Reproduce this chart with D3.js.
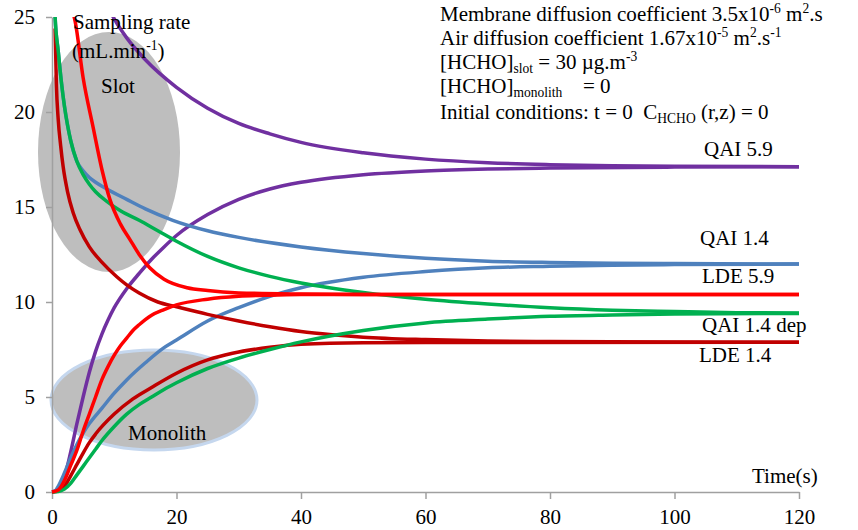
<!DOCTYPE html>
<html>
<head>
<meta charset="utf-8">
<script src="https://cdn.jsdelivr.net/npm/d3@7"></script>
<style>
  html, body { margin: 0; padding: 0; background: #fff; }
  svg { display: block; }
  text { font-family: "Liberation Serif", "Tinos", "Times New Roman", "Nimbus Roman", "DejaVu Serif", "Noto Serif", serif; fill: #000; }
</style>
</head>
<body>
<svg id="chart" width="858" height="530"></svg>
<script>
// ---------- data ----------
const xTicks = [0, 20, 40, 60, 80, 100, 120];
const yTicks = [0, 5, 10, 15, 20, 25];

// [time (s), sampling rate (mL/min)]
const qai59Slot = [[9.5,25.2],[10,24.9],[12,23.9],[15,22.75],[20,21.3],[25,20.2],[30,19.4],[35,18.85],[40,18.4],[50,17.85],[60,17.52],[70,17.33],[80,17.23],[90,17.17],[100,17.14],[120,17.12]];
const qai59Mono = [[0,0],[1,0.15],[2,0.8],[3,2.1],[4,3.6],[5,5.0],[6,6.3],[7,7.4],[8,8.3],[9,9.05],[10,9.7],[12,10.7],[14,11.5],[16,12.25],[18,12.9],[20,13.5],[25,14.6],[30,15.4],[35,15.95],[40,16.3],[50,16.7],[60,16.9],[70,17.0],[80,17.05],[100,17.1],[120,17.12]];

const qai14Slot = [[0.3,27],[0.5,25],[1,23.2],[1.5,21.6],[2,20.3],[2.5,19.3],[3,18.5],[4,17.4],[5,16.9],[6,16.55],[7,16.3],[8.8,15.95],[12,15.4],[15,14.9],[19.4,14.3],[25,13.75],[30,13.4],[40,12.9],[50,12.55],[60,12.3],[70,12.15],[80,12.08],[90,12.04],[100,12.02],[120,12.0]];
const qai14Mono = [[0,0],[0.5,0.05],[1,0.3],[2,1.0],[3,1.8],[4,2.5],[5,3.1],[6,3.6],[8,4.4],[10,5.2],[12,5.9],[15,6.8],[18,7.6],[20,8.0],[25,9.0],[30,9.7],[35,10.3],[40,10.75],[50,11.3],[60,11.6],[70,11.8],[80,11.88],[90,11.94],[100,11.97],[120,12.0]];

const qai14DepSlot = [[0.3,27],[0.5,25],[1,23.2],[1.5,21.6],[2,20.3],[2.5,19.3],[3,18.5],[4,17.4],[5,16.7],[6,16.2],[7,15.8],[8.8,15.3],[11,14.8],[14,14.3],[17,13.75],[20,13.2],[25,12.4],[30,11.8],[35,11.35],[40,11.0],[50,10.5],[60,10.15],[70,9.9],[80,9.7],[90,9.57],[100,9.5],[110,9.44],[120,9.42]];
const qai14DepMono = [[0,0],[1,0.02],[2,0.15],[3,0.45],[4,0.9],[5,1.35],[6,1.8],[7,2.25],[8,2.7],[10,3.45],[12,4.1],[14,4.6],[16,5.0],[18,5.4],[20,5.75],[25,6.5],[30,7.05],[35,7.5],[40,7.9],[50,8.5],[60,8.9],[70,9.1],[80,9.25],[90,9.32],[100,9.37],[120,9.4]];

const lde59Slot = [[3.4,25.2],[3.7,24.8],[5,21.8],[6.6,19.2],[8,17.0],[9.3,15.4],[11,14.1],[12.5,13.3],[14,12.5],[15.7,11.8],[18,11.2],[21.7,10.75],[25,10.6],[30,10.48],[40,10.42],[50,10.4],[120,10.4]];
const lde59Mono = [[0,0],[1,0.1],[2,0.6],[3,1.4],[4,2.2],[5,3.2],[6,4.1],[7,5.0],[8,5.9],[9,6.6],[10,7.2],[11,7.7],[12,8.1],[13,8.5],[14,8.8],[16,9.3],[18,9.6],[20,9.85],[25,10.15],[30,10.3],[35,10.36],[40,10.39],[50,10.4],[120,10.4]];

const lde14Slot = [[0.5,24.4],[0.7,21.5],[1,19.6],[1.4,18.2],[1.8,17.1],[2.5,15.8],[3.4,14.7],[4.5,13.8],[6,12.9],[8,12.1],[10.4,11.33],[12,10.9],[14,10.47],[17,10.0],[20,9.75],[25,9.35],[30,9.0],[35,8.7],[40,8.45],[45,8.28],[50,8.15],[60,8.02],[70,7.95],[80,7.92],[100,7.89],[120,7.88]];
const lde14Mono = [[0,0],[1,0.05],[2,0.3],[3,0.85],[4,1.45],[5,2.05],[6,2.6],[7,3.05],[10,4.1],[13,4.9],[16,5.5],[20,6.25],[25,6.95],[29,7.3],[35,7.62],[40,7.78],[50,7.86],[60,7.87],[120,7.88]];

const seriesNames = ["QAI 5.9", "QAI 1.4", "LDE 1.4", "QAI 1.4 dep", "LDE 5.9"];
const seriesColors = ["#7030A0", "#4F81BD", "#C00000", "#00B050", "#FF0000"];
const seriesData = [
  [qai59Slot, qai59Mono],
  [qai14Slot, qai14Mono],
  [lde14Slot, lde14Mono],
  [qai14DepSlot, qai14DepMono],
  [lde59Slot, lde59Mono]
];

// ---------- chart ----------
const svg = d3.select("#chart");
const x = d3.scaleLinear().domain([0, 120]).range([52, 799]);
const y = d3.scaleLinear().domain([0, 25]).range([492, 17]);

// font size calibrated so the first annotation line spans its width in the reference
const probe = svg.append("text").style("font-size", "21px")
  .text("Membrane diffusion coefficient 3.5x10-6 m2.s");
const probeW = probe.node().getComputedTextLength();
probe.remove();
const K = Math.max(0.75, Math.min(1.25, 393 / probeW));
const FS = 21 * K, SFS = 13.5 * K;

svg.append("defs").append("clipPath").attr("id", "plotclip")
  .append("rect").attr("x", 40).attr("y", y(25)).attr("width", 780).attr("height", y(0) - y(25) + 10);

// ellipses (background shapes)
svg.append("ellipse").attr("cx", 109).attr("cy", 152).attr("rx", 71).attr("ry", 120)
  .attr("fill", "#BEBEBE");
svg.append("ellipse").attr("cx", 154).attr("cy", 400).attr("rx", 103).attr("ry", 50)
  .attr("fill", "#BEBEBE").attr("stroke", "#C5D7EE").attr("stroke-width", 3);

// axes
const axisColor = "#A0A0A0";
const gx = svg.append("g").attr("transform", `translate(0,${y(0)})`)
  .call(d3.axisBottom(x).tickValues(xTicks).tickSize(7).tickSizeOuter(0).tickFormat(d3.format("d")));
gx.selectAll("text").attr("dy", null).attr("y", 32);
const gy = svg.append("g").attr("transform", `translate(${x(0)},0)`)
  .call(d3.axisLeft(y).tickValues(yTicks).tickSize(6).tickSizeOuter(0).tickPadding(11).tickFormat(d3.format("d")));
[gx, gy].forEach(g => {
  g.attr("font-family", null).attr("font-size", null);
  g.select(".domain").attr("stroke", axisColor).attr("stroke-width", 1.5);
  g.selectAll(".tick line").attr("stroke", axisColor).attr("stroke-width", 1.5);
  g.selectAll("text").attr("fill", "#000").style("font-size", FS + "px");
});

// lines
const line = d3.line().x(d => x(d[0])).y(d => y(d[1])).curve(d3.curveMonotoneX);
const gl = svg.append("g").attr("clip-path", "url(#plotclip)");
seriesData.forEach((pair, i) => {
  pair.forEach(arr => {
    gl.append("path").datum(arr).attr("d", line)
      .attr("fill", "none").attr("stroke", seriesColors[i])
      .attr("stroke-width", 3.5).attr("stroke-linejoin", "round").attr("stroke-linecap", "butt");
  });
});

// ---------- texts ----------
function rich(xp, yp, parts) {
  const t = svg.append("text").attr("x", xp).attr("y", yp).style("font-size", FS + "px");
  let shift = 0;
  parts.forEach(p => {
    const [txt, kind, px] = Array.isArray(p) ? p : [p, "n"];
    let target = 0;
    if (kind === "sup") target = -8;
    if (kind === "sub") target = 4;
    const ts = t.append("tspan").text(txt).attr("dy", target - shift);
    if (px !== undefined) ts.attr("x", px);
    if (kind === "sup" || kind === "sub") ts.style("font-size", SFS + "px");
    shift = target;
  });
  return t;
}

rich(440, 21, ["Membrane diffusion coefficient 3.5x10", ["-6", "sup"], " m", ["2", "sup"], ".s"]);
rich(440, 45, ["Air diffusion coefficient 1.67x10", ["-5", "sup"], " m", ["2", "sup"], ".s", ["-1", "sup"]]);
rich(440, 69, ["[HCHO]", ["slot", "sub"], " = 30 µg.m", ["-3", "sup"]]);
rich(440, 93, ["[HCHO]", ["monolith", "sub"], ["= 0", "n", 583]]);
rich(440, 119, ["Initial conditions: t = 0\u00A0\u00A0C", ["HCHO", "sub"], " (r,z) = 0"]);

rich(73, 29, ["Sampling rate"]);
rich(72, 58, ["(mL.min", ["-1", "sup"], ")"]);
rich(101, 93, ["Slot"]);
rich(128, 440, ["Monolith"]);
rich(752, 483, ["Time(s)"]);

const labelPos = [[704, 156], [700, 245], [699, 362], [702, 332], [702, 283]];
seriesNames.forEach((n, i) => rich(labelPos[i][0], labelPos[i][1], [n]));
</script>
</body>
</html>
